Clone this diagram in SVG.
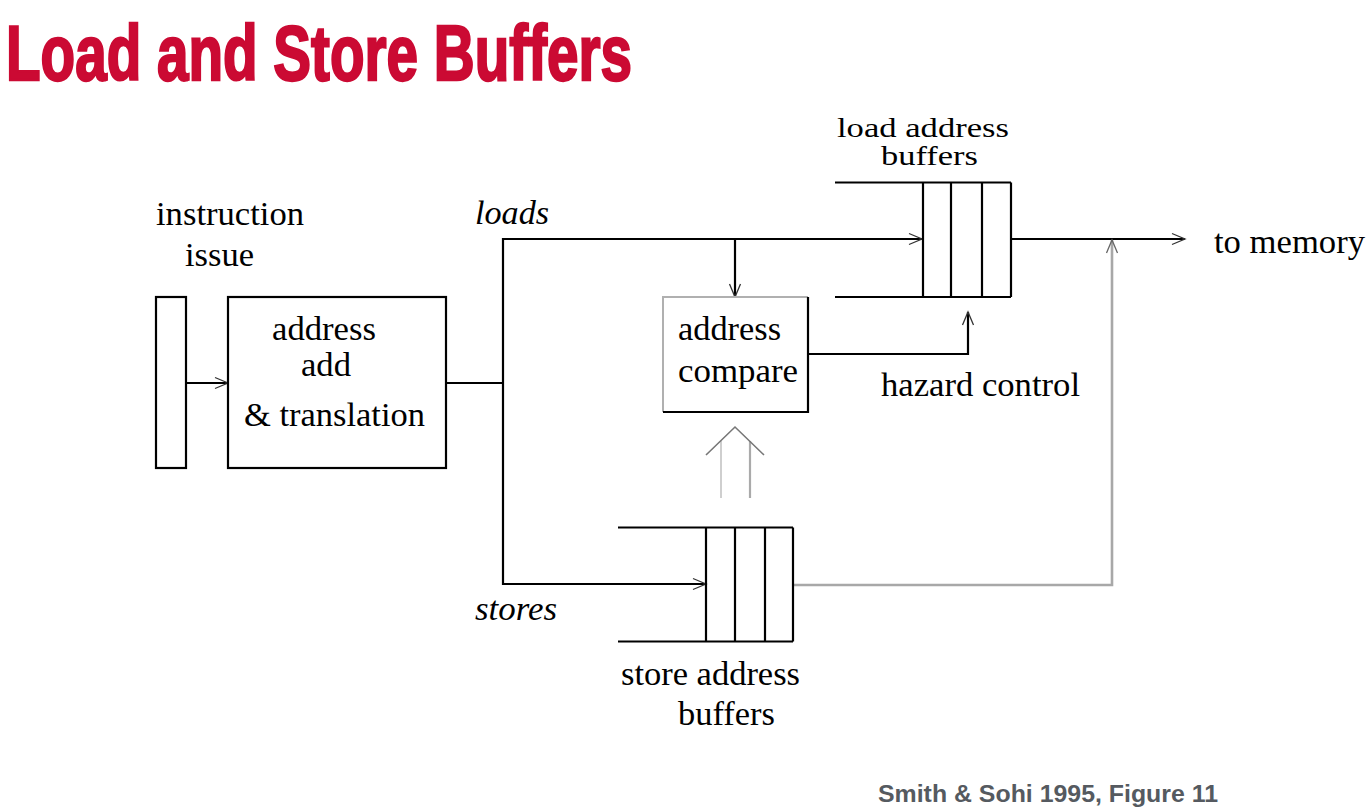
<svg xmlns="http://www.w3.org/2000/svg" width="1367" height="810" viewBox="0 0 1367 810">
<style>
.t{font-family:"Liberation Serif","Times New Roman",serif;font-size:33px;fill:#000}
.s{font-size:27px}
.i{font-style:italic}
.k{fill:none;stroke:#000;stroke-width:2.2}
.g{fill:none;stroke:#a8a8a8;stroke-width:2.6}
.box{fill:#fff;stroke:#000;stroke-width:2.2}
</style>
<defs>
<marker id="ah" markerUnits="userSpaceOnUse" markerWidth="16" markerHeight="14" viewBox="0 0 16 14" refX="14" refY="7" orient="auto">
<path d="M1,1.5 L14,7 L1,12.5" fill="none" stroke="#333" stroke-width="1.3"/>
</marker>
<marker id="ahg" markerUnits="userSpaceOnUse" markerWidth="16" markerHeight="14" viewBox="0 0 16 14" refX="14" refY="7" orient="auto">
<path d="M1,1.5 L14,7 L1,12.5" fill="none" stroke="#666" stroke-width="1.3"/>
</marker>
</defs>
<rect width="1367" height="810" fill="#fff"/>
<text x="6" y="80" font-family="'Liberation Sans Narrow','Liberation Sans',Arial,sans-serif" font-weight="bold" font-size="78" fill="#CB0A33" stroke="#CB0A33" stroke-width="2.4" textLength="626" lengthAdjust="spacingAndGlyphs">Load and Store Buffers</text>

<g id="connectors">
<path class="k" d="M186,383 H228" marker-end="url(#ah)"/>
<path class="k" d="M446,383 H503"/>
<path class="k" d="M503,383 V239 H922" marker-end="url(#ah)"/>
<path class="k" d="M503,383 V584 H706" marker-end="url(#ah)"/>
<path class="k" d="M735,239 V297" marker-end="url(#ah)"/>
<path class="k" d="M808,354 H968 V312" marker-end="url(#ah)"/>
<path class="k" d="M1011,239 H1185" marker-end="url(#ah)"/>
<path class="g" d="M793,585 H1112 V240" marker-end="url(#ahg)"/>
<g id="double-arrow">
<line x1="721" y1="498" x2="721" y2="441" stroke="#cfcfcf" stroke-width="2"/>
<line x1="750" y1="498" x2="750" y2="441" stroke="#aaaaaa" stroke-width="2.2"/>
<path d="M706,455 L735,427 L764,455" fill="none" stroke="#777" stroke-width="1.6"/>
</g>
</g>

<g id="instruction-issue">
<rect class="box" x="156" y="297" width="30" height="171"/>
<text class="t" x="156" y="225" textLength="148" lengthAdjust="spacingAndGlyphs">instruction</text>
<text class="t" x="185" y="266" textLength="69" lengthAdjust="spacingAndGlyphs">issue</text>
</g>

<g id="address-add">
<rect class="box" x="228" y="297" width="218" height="171"/>
<text class="t" x="272" y="340" textLength="104" lengthAdjust="spacingAndGlyphs">address</text>
<text class="t" x="301" y="376" textLength="50" lengthAdjust="spacingAndGlyphs">add</text>
<text class="t" x="244" y="426" textLength="181" lengthAdjust="spacingAndGlyphs">&amp; translation</text>
</g>

<g id="address-compare">
<rect x="663" y="297" width="145" height="115" fill="#fff"/>
<path d="M663,412 V297 H808" fill="none" stroke="#b0b0b0" stroke-width="2"/>
<path d="M808,297 V412 H663" fill="none" stroke="#000" stroke-width="2.2"/>
<text class="t" x="678" y="340" textLength="103" lengthAdjust="spacingAndGlyphs">address</text>
<text class="t" x="678" y="382" textLength="120" lengthAdjust="spacingAndGlyphs">compare</text>
</g>

<g id="load-buffers">
<path class="k" d="M835,182.5 H1011 M835,297 H1011 M923,182.5 V297 M951,182.5 V297 M982,182.5 V297 M1011,182.5 V297"/>
<text class="t s" x="837" y="137" textLength="172" lengthAdjust="spacingAndGlyphs">load address</text>
<text class="t s" x="881" y="165" textLength="97" lengthAdjust="spacingAndGlyphs">buffers</text>
</g>

<g id="store-buffers">
<path class="k" d="M618,527.5 H793 M618,641.5 H793 M706,527.5 V641.5 M735,527.5 V641.5 M765,527.5 V641.5 M793,527.5 V641.5"/>
<text class="t" x="621" y="685" textLength="179" lengthAdjust="spacingAndGlyphs">store address</text>
<text class="t" x="678" y="725" textLength="97" lengthAdjust="spacingAndGlyphs">buffers</text>
</g>

<g id="labels">
<text class="t i" x="475" y="224" textLength="74" lengthAdjust="spacingAndGlyphs">loads</text>
<text class="t i" x="475" y="620" textLength="82" lengthAdjust="spacingAndGlyphs">stores</text>
<text class="t" x="881" y="396" textLength="199" lengthAdjust="spacingAndGlyphs">hazard control</text>
<text class="t" x="1214" y="253" textLength="151" lengthAdjust="spacingAndGlyphs">to memory</text>
</g>

<text x="878" y="802" font-family="'Liberation Sans',Arial,sans-serif" font-weight="bold" font-size="23" fill="#555a60" textLength="340" lengthAdjust="spacingAndGlyphs">Smith &amp; Sohi 1995, Figure 11</text>
</svg>
